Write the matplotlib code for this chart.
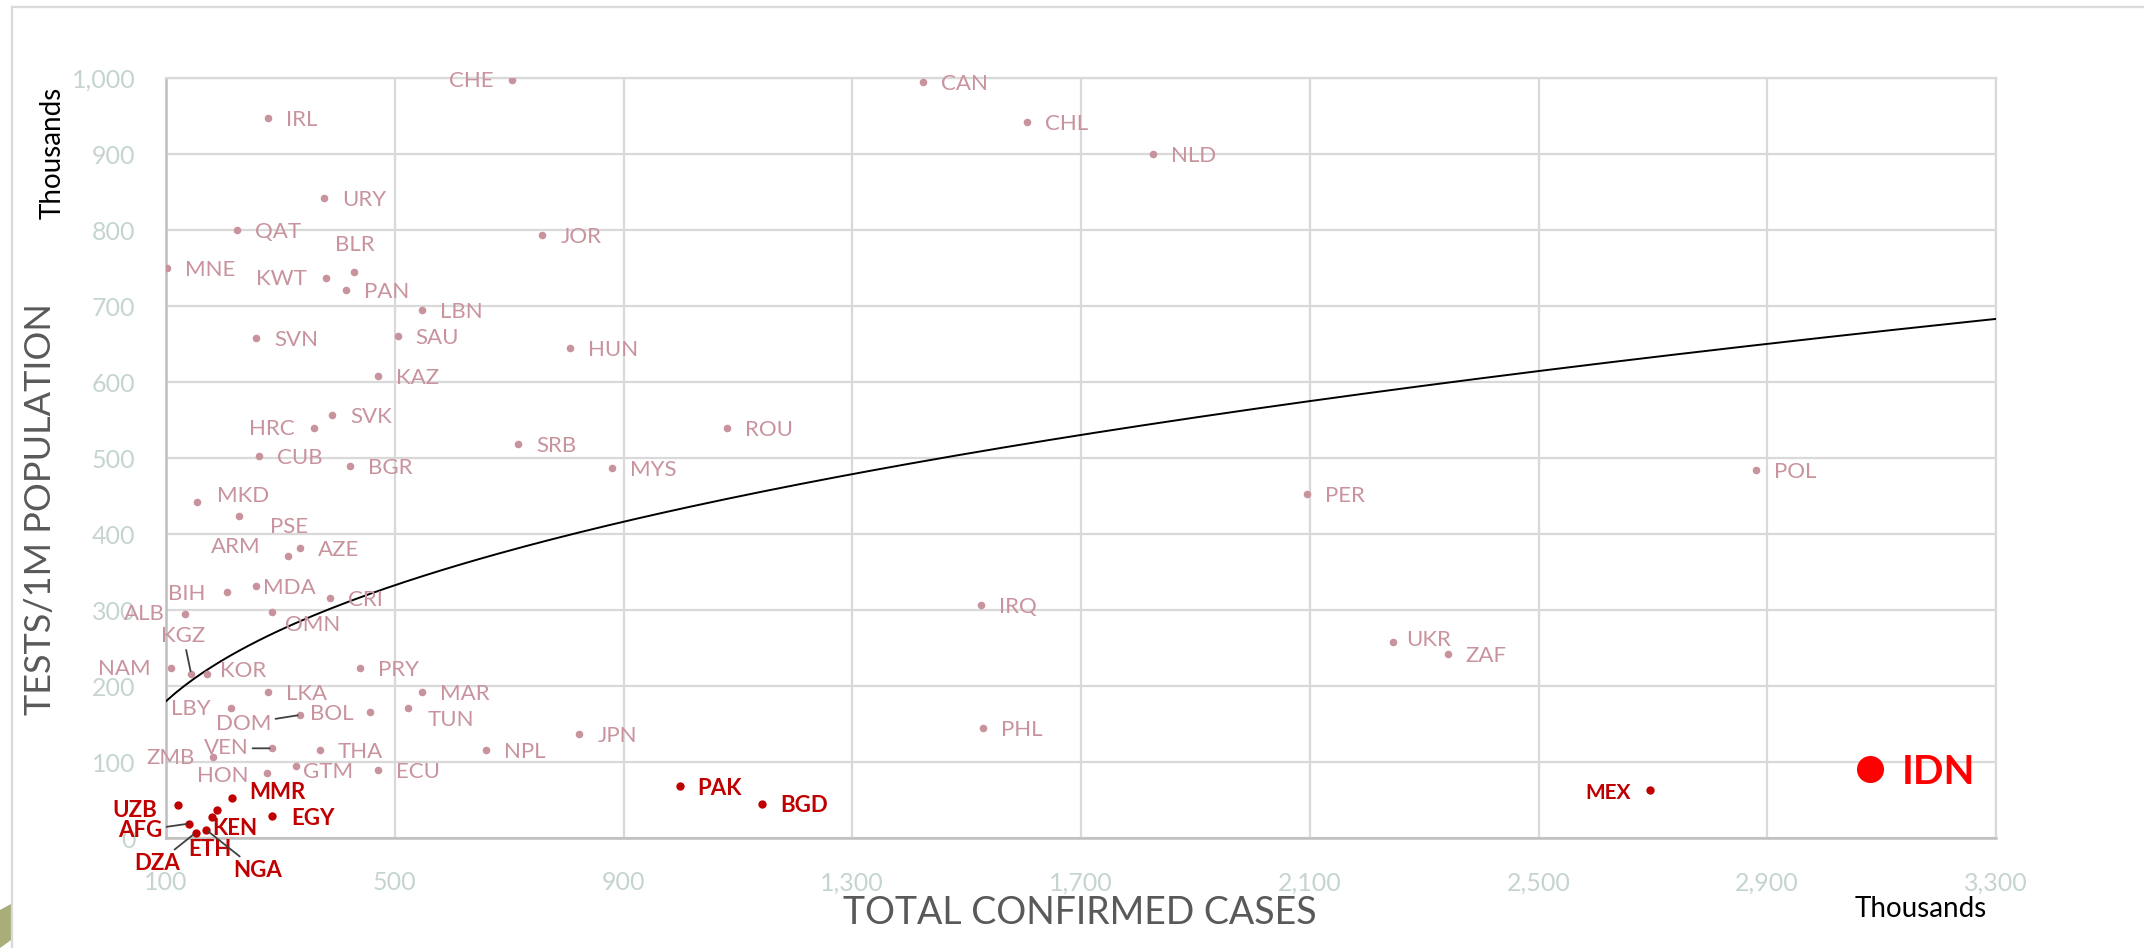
import matplotlib
matplotlib.use("Agg")
import matplotlib.pyplot as plt
import numpy as np
from matplotlib.ticker import FuncFormatter
from matplotlib.patches import Polygon

# values (both axes in thousands)
pink_codes = ['CHE', 'CAN', 'IRL', 'CHL', 'NLD', 'URY', 'QAT', 'JOR', 'MNE', 'BLR',
              'KWT', 'PAN', 'LBN', 'SAU', 'SVN', 'HUN', 'KAZ', 'SVK', 'ROU', 'HRC',
              'SRB', 'CUB', 'BGR', 'MYS', 'POL', 'PER', 'MKD', 'PSE', 'AZE', 'ARM',
              'MDA', 'BIH', 'CRI', 'IRQ', 'OMN', 'ALB', 'UKR', 'ZAF', 'NAM', 'PRY',
              'KGZ', 'KOR', 'LKA', 'MAR', 'LBY', 'TUN', 'BOL', 'DOM', 'PHL', 'JPN',
              'VEN', 'THA', 'NPL', 'ZMB', 'GTM', 'ECU', 'HON']
pink_cases = [705, 1423, 279, 1606, 1826, 377, 224, 758, 102, 429,
              380, 415, 547, 505, 258, 806, 471, 390, 1081, 359,
              716, 262, 422, 880, 2881, 2095, 154, 227, 335, 314,
              258, 206, 387, 1526, 286, 133, 2246, 2341, 109, 440,
              144, 171, 279, 547, 213, 523, 456, 335, 1528, 823,
              286, 369, 660, 182, 328, 471, 276]
pink_tests = [998, 995, 948, 942, 900, 842, 800, 793, 750, 745,
              737, 721, 695, 661, 658, 645, 608, 556, 540, 540,
              519, 503, 490, 487, 484, 453, 442, 424, 382, 371,
              332, 324, 316, 307, 297, 295, 258, 242, 224, 224,
              216, 216, 192, 192, 171, 171, 166, 162, 145, 137,
              118, 116, 116, 106, 95, 89, 85]

red_codes = ['PAK', 'MEX', 'MMR', 'BGD', 'UZB', 'ETH', 'EGY', 'KEN', 'AFG', 'NGA', 'DZA']
red_cases = [998, 2695, 215, 1143, 121, 190, 285, 180, 141, 170, 152]
red_tests = [68, 63, 53, 45, 43, 37, 29, 27, 19, 11, 7]

idn_code = 'IDN'
idn_cases = [3079]
idn_tests = [91]

# power trendline, read at both ends of the x range
trend_x = [100, 3300]
trend_y = [180, 683]

x_ticks = list(range(100, 3301, 400))
y_ticks = list(range(0, 1001, 100))

# label placement (pixels: dx right, dy down, alignment)
label_pos = {
    'CHE': (-18, 1, 'right'), 'KWT': (-19, 1, 'right'), 'BLR': (1, -27, 'center'),
    'HRC': (-19, 1, 'right'), 'MKD': (20, -6, 'left'), 'PSE': (31, 11, 'left'),
    'ARM': (-28, -9, 'right'), 'BIH': (-21, 2, 'right'), 'MDA': (7, 2, 'left'),
    'ALB': (-20, 0, 'right'), 'OMN': (13, 13, 'left'), 'KGZ': (-8, -38, 'center'),
    'NAM': (-21, 1, 'right'), 'KOR': (13, -3, 'left'), 'LBY': (-20, 1, 'right'),
    'TUN': (20, 12, 'left'), 'BOL': (-16, 2, 'right'), 'DOM': (-29, 9, 'right'),
    'VEN': (-24, 0, 'right'), 'ZMB': (-18, 1, 'right'), 'HON': (-18, 3, 'right'),
    'GTM': (7, 6, 'left'), 'UKR': (13, -2, 'left'), 'MEX': (-19, 3, 'right'),
    'UZB': (-21, 5, 'right'), 'MMR': (17, -5, 'left'), 'EGY': (19, 3, 'left'),
    'KEN': (1, 11, 'left'), 'AFG': (-27, 7, 'right'), 'ETH': (-8, 40, 'center'),
    'DZA': (-16, 31, 'right'), 'NGA': (27, 41, 'left'), 'IDN': (32, 4, 'left'),
}
leaders = {'KGZ', 'DOM', 'VEN', 'AFG', 'DZA', 'NGA'}
default_pos = (18, 2, 'left')

PINK = '#c8939d'
RED = '#c00000'
BRIGHT = '#ff0000'
TICK = '#c5d5ce'
GRID = '#d9d9d9'
FONT = 'Lato'

fig = plt.figure(figsize=(21.44, 9.48), dpi=100)
ax = fig.add_axes([166 / 2144, 1 - 838 / 948, (1996 - 166) / 2144, (838 - 78) / 948])


def label(code, x, y, color, size, weight):
    dx, dy, ha = label_pos.get(code, default_pos)
    kw = {}
    if code in leaders:
        kw['arrowprops'] = dict(arrowstyle='-', color='#404040', lw=1.3,
                                shrinkA=1, shrinkB=2)
    ax.annotate(code, (x, y), xytext=(dx, -dy), textcoords='offset pixels',
                ha=ha, va='center', color=color, fontsize=size, fontweight=weight,
                family=FONT, zorder=5, **kw)


# trendline
tx = np.linspace(trend_x[0], trend_x[1], 200)
b = np.log(trend_y[1] / trend_y[0]) / np.log(trend_x[1] / trend_x[0])
ty = trend_y[0] * (tx / trend_x[0]) ** b
ax.plot(tx, ty, color='black', lw=1.4, zorder=3)

ax.scatter(pink_cases, pink_tests, s=30, color=PINK, zorder=4, linewidths=0)
ax.scatter(red_cases, red_tests, s=36, color=RED, zorder=4, linewidths=0)
ax.scatter(idn_cases, idn_tests, s=380, color=BRIGHT, zorder=4, linewidths=0)

for c, x, y in zip(pink_codes, pink_cases, pink_tests):
    label(c, x, y, PINK, 16, 'normal')
for c, x, y in zip(red_codes, red_cases, red_tests):
    label(c, x, y, RED, 16 if c != 'MEX' else 15, 'bold')
label(idn_code, idn_cases[0], idn_tests[0], BRIGHT, 29, 'bold')

ax.set_xlim(100, 3300)
ax.set_ylim(0, 1000)
ax.set_xticks(x_ticks)
ax.set_yticks(y_ticks)
ax.xaxis.set_major_formatter(FuncFormatter(lambda v, p: f'{int(v):,}'))
ax.yaxis.set_major_formatter(FuncFormatter(lambda v, p: f'{int(v):,}'))
ax.tick_params(length=0, labelcolor=TICK, labelsize=18)
ax.tick_params(axis='x', pad=24)
ax.tick_params(axis='y', pad=22)
for t in ax.get_xticklabels() + ax.get_yticklabels():
    t.set_family(FONT)
ax.grid(True, color=GRID, lw=1.6, zorder=0)
ax.set_axisbelow(True)
for side in ['top', 'right']:
    ax.spines[side].set_color(GRID)
    ax.spines[side].set_linewidth(1.6)
for side in ['left', 'bottom']:
    ax.spines[side].set_color('#bfbfbf')
    ax.spines[side].set_linewidth(1.8)

fig.text(41 / 2144, 0.463, 'TESTS/1M POPULATION', rotation=90, ha='center', va='center',
         fontsize=26, color='#595959', family=FONT)
fig.text(53 / 2144, 1 - 153 / 948, 'Thousands', rotation=90, ha='center', va='center',
         fontsize=20, color='black', family=FONT)
fig.text(1080 / 2144, 1 - 913 / 948, 'TOTAL CONFIRMED CASES', ha='center', va='center',
         fontsize=27, color='#595959', family=FONT)
fig.text(1921 / 2144, 1 - 909 / 948, 'Thousands', ha='center', va='center',
         fontsize=20, color='black', family=FONT)

# slide frame and corner decoration
fig.add_artist(plt.Line2D([12 / 2144, 1], [1 - 7 / 948, 1 - 7 / 948], color=GRID, lw=1.6))
fig.add_artist(plt.Line2D([12 / 2144, 12 / 2144], [0, 1 - 7 / 948], color=GRID, lw=1.6))
fig.add_artist(Polygon([[0, 1 - 910 / 948], [11 / 2144, 1 - 904 / 948],
                        [11 / 2144, 1 - 940 / 948], [0, 0]],
                       closed=True, transform=fig.transFigure, color='#a9ad78', lw=0))

fig.savefig('out.png', dpi=100)
